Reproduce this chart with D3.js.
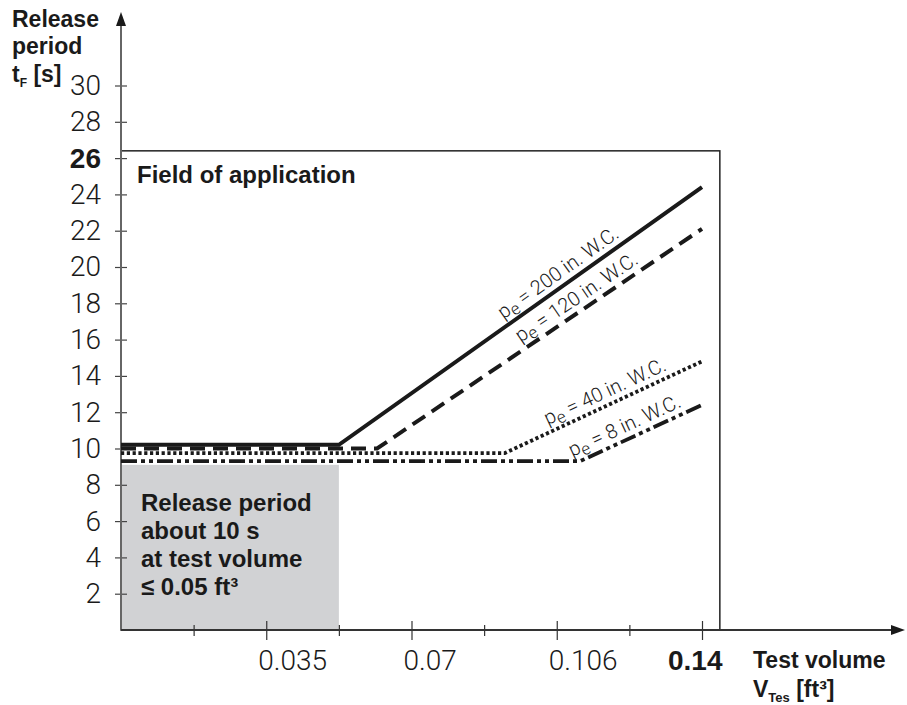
<!DOCTYPE html>
<html>
<head>
<meta charset="utf-8">
<script src="https://cdn.jsdelivr.net/npm/d3@7"></script>
<style>
  body { margin: 0; background: #fff; }
  svg text { font-family: "Liberation Sans", Arial, sans-serif; fill: #1a1a1a; }
  .light { font-family: Roboto, "Liberation Sans", sans-serif; font-weight: 300; }
  .bold { font-weight: bold; }
</style>
</head>
<body>
<svg id="chart" width="907" height="705"></svg>
<script>
// Ticks and labels
const yTicks = [2, 4, 6, 8, 10, 12, 14, 16, 18, 20, 22, 24, 26, 28, 30];
const yBoldTick = 26;
const xTicks = [0.0175, 0.035, 0.0525, 0.07, 0.0875, 0.105, 0.1225, 0.14];
const xLabelValues = [0.035, 0.07, 0.105, 0.14];
const xLabelTexts = ["0.035", "0.07", "0.106", "0.14"];

// Curves: flat release period until the knee, then rising to 0.14 ft³
const pressures = [200, 120, 40, 8];
const kneeVolume = [0.0525, 0.0617, 0.0925, 0.1106];
const flatPeriod = [10.2, 10.0, 9.75, 9.3];
const endPeriod = [24.4, 22.1, 14.8, 12.4];

// Field of application / grey region (volume, period)
const fieldCorner = [0.1443, 26.4];
const greyCorner = [0.0525, 9.1];

const svg = d3.select("#chart");

const x = d3.scaleLinear().domain([0, 0.14]).range([121, 702]);
const y = d3.scaleLinear().domain([0, 30]).range([630, 85.5]);

// grey zone
svg.append("rect")
  .attr("x", x(0)).attr("y", y(greyCorner[1]))
  .attr("width", x(greyCorner[0]) - x(0))
  .attr("height", y(0) - y(greyCorner[1]))
  .attr("fill", "#d1d2d4");

// field of application frame
svg.append("rect")
  .attr("x", x(0)).attr("y", y(fieldCorner[1]))
  .attr("width", x(fieldCorner[0]) - x(0))
  .attr("height", y(0) - y(fieldCorner[1]))
  .attr("fill", "none")
  .attr("stroke", "#222")
  .attr("stroke-width", 1.5);

// y axis
const yAxis = svg.append("g")
  .attr("transform", `translate(${x(0)},0)`)
  .call(d3.axisLeft(y).tickValues(yTicks).tickSize(6).tickPadding(14));
yAxis.select(".domain").remove();
yAxis.selectAll(".tick line").attr("x1", 6).attr("stroke", "#444").attr("stroke-width", 1.2);
yAxis.selectAll(".tick text")
  .attr("class", d => d === yBoldTick ? "bold" : "light")
  .attr("font-size", 28)
  .attr("fill", "#1a1a1a")
  .attr("font-family", null);

svg.append("line")
  .attr("x1", x(0)).attr("x2", x(0))
  .attr("y1", y(0)).attr("y2", 22)
  .attr("stroke", "#666").attr("stroke-width", 2);
svg.append("path")
  .attr("d", `M${x(0)},12 L${x(0) - 5},26 L${x(0) + 5},26 Z`)
  .attr("fill", "#1a1a1a");

// x axis
const xAxis = svg.append("g")
  .attr("transform", `translate(0,${y(0)})`)
  .call(d3.axisBottom(x).tickValues(xTicks).tickFormat(""));
xAxis.select(".domain").remove();
xAxis.selectAll(".tick line")
  .attr("stroke", "#333").attr("stroke-width", 1.2)
  .attr("y1", d => xLabelValues.includes(d) ? -9 : -5)
  .attr("y2", d => xLabelValues.includes(d) ? 10 : 6);

svg.append("line")
  .attr("x1", x(0)).attr("x2", 893)
  .attr("y1", y(0)).attr("y2", y(0))
  .attr("stroke", "#333").attr("stroke-width", 2);
svg.append("path")
  .attr("d", `M905,${y(0)} L891,${y(0) - 5} L891,${y(0) + 5} Z`)
  .attr("fill", "#1a1a1a");

xLabelValues.forEach((v, i) => {
  const last = i === xLabelValues.length - 1;
  svg.append("text")
    .attr("class", last ? "bold" : "light")
    .attr("x", x(v))
    .attr("dx", last ? -34 : -8)
    .attr("y", 670)
    .attr("font-size", 28)
    .text(xLabelTexts[i]);
});

// curves
const lineStyles = [
  { dash: null, width: 4 },
  { dash: "15,8", width: 4 },
  { dash: "3.2,2.6", width: 3.8 },
  { dash: "16,4,4,4,4,4", width: 3.8 }
];
const labelVolume = [0.1072, 0.1116, 0.118, 0.1227];

const line = d3.line().x(d => x(d[0])).y(d => y(d[1]));

pressures.forEach((p, i) => {
  const pts = [[0, flatPeriod[i]], [kneeVolume[i], flatPeriod[i]], [0.14, endPeriod[i]]];
  svg.append("path")
    .attr("d", line(pts))
    .attr("fill", "none")
    .attr("stroke", "#1a1a1a")
    .attr("stroke-width", lineStyles[i].width)
    .attr("stroke-dasharray", lineStyles[i].dash);

  const t = (labelVolume[i] - kneeVolume[i]) / (0.14 - kneeVolume[i]);
  const lv = flatPeriod[i] + t * (endPeriod[i] - flatPeriod[i]);
  const ang = Math.atan2(y(endPeriod[i]) - y(flatPeriod[i]), x(0.14) - x(kneeVolume[i])) * 180 / Math.PI;
  const lab = svg.append("text")
    .attr("class", "light")
    .attr("font-size", 20)
    .attr("text-anchor", "middle")
    .attr("transform", `translate(${x(labelVolume[i])},${y(lv)}) rotate(${ang})`)
    .attr("y", -7);
  lab.append("tspan").text("p");
  lab.append("tspan").attr("dy", 4).attr("font-size", 17).text("e");
  lab.append("tspan").attr("dy", -4).text(` = ${p} in. W.C.`);
});

// texts
svg.append("text").attr("class", "bold").attr("font-size", 24)
  .attr("x", 137).attr("y", 183).text("Field of application");

const grey = svg.append("text").attr("class", "bold").attr("font-size", 24);
["Release period", "about 10 s", "at test volume", "≤ 0.05 ft³"].forEach((s, i) => {
  grey.append("tspan").attr("x", 141).attr("y", 511 + i * 28).text(s);
});

const yt = svg.append("text").attr("class", "bold").attr("font-size", 23);
yt.append("tspan").attr("x", 12).attr("y", 27).text("Release");
yt.append("tspan").attr("x", 12).attr("y", 54).text("period");
yt.append("tspan").attr("x", 12).attr("y", 82).text("t");
yt.append("tspan").attr("dy", 5).attr("font-size", 12).text("F");
yt.append("tspan").attr("dy", -5).text(" [s]");

const xt = svg.append("text").attr("class", "bold").attr("font-size", 23);
xt.append("tspan").attr("x", 753).attr("y", 668).text("Test volume");
xt.append("tspan").attr("x", 753).attr("y", 697).text("V");
xt.append("tspan").attr("dy", 5).attr("font-size", 13).text("Tes");
xt.append("tspan").attr("dy", -5).text(" [ft³]");
</script>
</body>
</html>
